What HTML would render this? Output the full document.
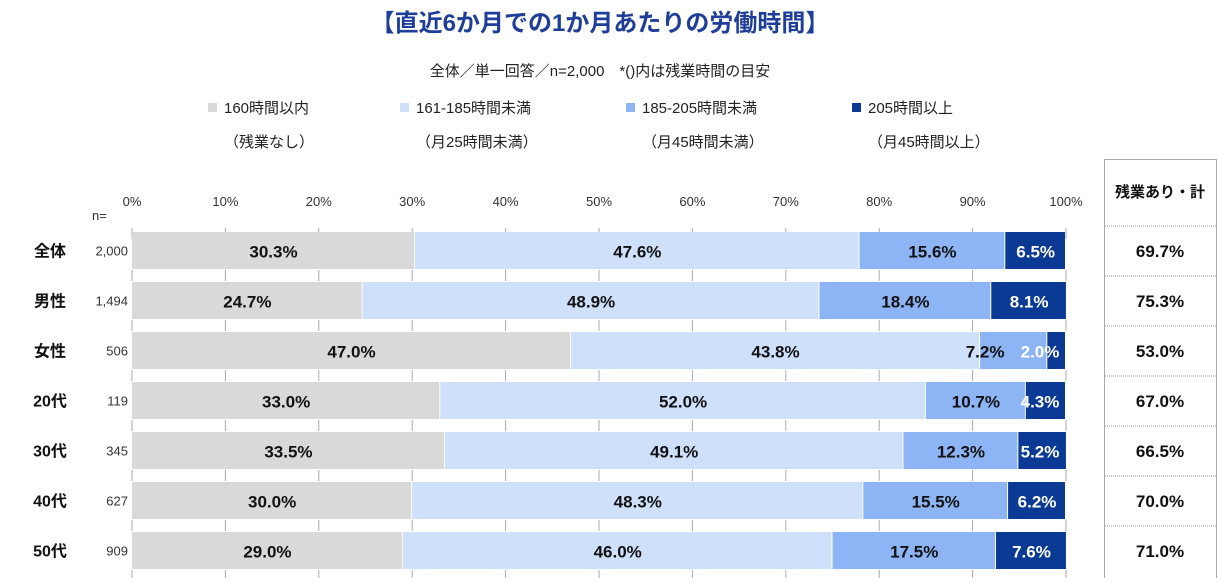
<!DOCTYPE html>
<html><head><meta charset="utf-8"><style>
body{margin:0;background:#fff;}
svg{display:block;font-family:"Liberation Sans","Noto Sans CJK JP",sans-serif;}
</style></head><body>
<svg id="c" width="1218" height="578" xmlns="http://www.w3.org/2000/svg">
<text x="600" y="31" text-anchor="middle" font-size="24" font-weight="bold" fill="#1f3e9a">【直近6か月での1か月あたりの労働時間】</text>
<text x="600" y="76" text-anchor="middle" font-size="15" fill="#222">全体／単一回答／n=2,000　*()内は残業時間の目安</text>
<g id="legend"></g>
<g id="axis"></g>
<g id="bars"></g>
<g id="table"></g>
</svg>
<script>
const categories=["全体","男性","女性","20代","30代","40代","50代"];
const nValues=["2,000","1,494","506","119","345","627","909"];
const s160=[30.3,24.7,47.0,33.0,33.5,30.0,29.0];
const s185=[47.6,48.9,43.8,52.0,49.1,48.3,46.0];
const s205=[15.6,18.4,7.2,10.7,12.3,15.5,17.5];
const s205p=[6.5,8.1,2.0,4.3,5.2,6.2,7.6];
const totals=["69.7%","75.3%","53.0%","67.0%","66.5%","70.0%","71.0%"];
const ticks=[0,10,20,30,40,50,60,70,80,90,100];
const seriesNames=["160時間以内","161-185時間未満","185-205時間未満","205時間以上"];
const seriesSub=["（残業なし）","（月25時間未満）","（月45時間未満）","（月45時間以上）"];
const colors=["#d9d9d9","#cfe0fb","#8db4f5","#0a3a94"];
const NS="http://www.w3.org/2000/svg";
const X0=132,X1=1066;
const x=v=>X0+(X1-X0)*v/100;
const rowY=i=>232+i*50;
function el(tag,attrs,parent,txt){const e=document.createElementNS(NS,tag);for(const k in attrs)e.setAttribute(k,attrs[k]);if(txt!=null)e.textContent=txt;parent.appendChild(e);return e;}
const lg=document.getElementById('legend');
const lx=[208,400,626,852];
seriesNames.forEach((n,i)=>{
  const r=el('rect',{x:lx[i],y:103,width:9,height:9,fill:colors[i]},lg);
  
  
  const t=el('text',{x:lx[i]+16,y:113,'font-size':15,fill:'#222'},lg,n);
  
  
  const t2=el('text',{x:lx[i]+16,y:147,'font-size':15,fill:'#222'},lg,seriesSub[i]);
  
  
});
const ax=document.getElementById('axis');
ticks.forEach(t=>{
  const tx=el('text',{x:x(t),y:206,'text-anchor':'middle','font-size':13,fill:'#333'},ax,t+'%');
  
  
  for(let i=0;i<=categories.length;i++){
    const yy=i===0?227:rowY(i-1)+37;
    const m=el('line',{x1:x(t),x2:x(t),y1:yy+1,y2:yy+12,stroke:'#aaa','stroke-width':1},ax);
    
    
  }
});
const nl=el('text',{x:92,y:220,'font-size':13,fill:'#333'},ax,'n=');


const bg=document.getElementById('bars');
const series=[s160,s185,s205,s205p];
categories.forEach((c,i)=>{
  const y=rowY(i),cy=y+18.5;
  const cl=el('text',{x:50,y:cy+6,'text-anchor':'middle','font-size':16,'font-weight':'bold',fill:'#111'},bg,c);
  
  
  const nt=el('text',{x:128,y:cy+5,'text-anchor':'end','font-size':13,fill:'#333'},bg,nValues[i]);
  
  
  let acc=0;
  series.forEach((s,k)=>{
    const v=s[i];const xa=x(acc),xb=x(acc+v);acc+=v;
    const r=el('rect',{x:xa,y:y,width:Math.max(0,xb-xa-1),height:37,fill:colors[k]},bg);
    
    
    let lxp=(xa+xb)/2;
    if(k===3) lxp=Math.min(lxp,X1-26);
    if(k===2 && xb-xa<80) lxp=xa+5;
    const t=el('text',{x:lxp,y:cy+7,'text-anchor':'middle','font-size':17,'font-weight':'bold',fill:k===3?'#fff':'#111'},bg,v.toFixed(1)+'%');
    
    
  });
});
const tb=document.getElementById('table');
const box=el('rect',{x:1104.5,y:159.5,width:112,height:430,fill:'none',stroke:'#aaa'},tb);


const th=el('text',{x:1160,y:197,'text-anchor':'middle','font-size':15,'font-weight':'bold',fill:'#111'},tb,'残業あり・計');


totals.forEach((t,i)=>{
  const ly=rowY(i)-6;
  const ln=el('line',{x1:1105,x2:1216,y1:ly,y2:ly,stroke:'#999','stroke-dasharray':'1 1'},tb);
  
  
  const tt=el('text',{x:1160,y:rowY(i)+25,'text-anchor':'middle','font-size':17,'font-weight':'bold',fill:'#111'},tb,t);
  
  
});
</script>
</body></html>
